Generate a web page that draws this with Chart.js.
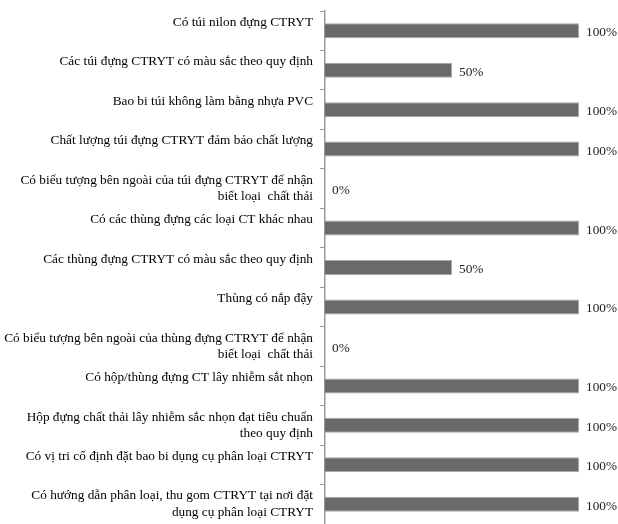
<!DOCTYPE html>
<html>
<head>
<meta charset="utf-8">
<script src="https://cdn.jsdelivr.net/npm/chart.js@4/dist/chart.umd.min.js"></script>
<style>
  html, body { margin: 0; padding: 0; background: #fff; }
  #wrap { width: 618px; height: 524px; }
</style>
</head>
<body>
<div id="wrap"><canvas id="chart" width="618" height="524"></canvas></div>
<script>
// category labels (single-line ones get an empty 2nd line, like the original)
const labels = [
  ["Có túi nilon đựng CTRYT", ""],
  ["Các túi đựng CTRYT có màu sắc theo quy định", ""],
  ["Bao bi túi không làm bằng nhựa PVC", ""],
  ["Chất lượng túi đựng CTRYT đảm bảo chất lượng", ""],
  ["Có biểu tượng bên ngoài của túi đựng CTRYT để nhận", "biết loại  chất thải"],
  ["Có các thùng đựng các loại CT khác nhau", ""],
  ["Các thùng đựng CTRYT có màu sắc theo quy định", ""],
  ["Thùng có nắp đậy", ""],
  ["Có biểu tượng bên ngoài của thùng đựng CTRYT để nhận", "biết loại  chất thải"],
  ["Có hộp/thùng đựng CT lây nhiễm sắt nhọn", ""],
  ["Hộp đựng chất thải lây nhiễm sắc nhọn đạt tiêu chuẩn", "theo quy định"],
  ["Có vị tri cố định đặt bao bi dụng cụ phân loại CTRYT", ""],
  ["Có hướng dẫn phân loại, thu gom CTRYT tại nơi đặt", "dụng cụ phân loại CTRYT"]
];
const values = [100, 50, 100, 100, 0, 100, 50, 100, 0, 100, 100, 100, 100];

const serif = "'Liberation Serif', 'Times New Roman', serif";

const valueLabels = {
  id: "valueLabels",
  afterDatasetsDraw(c) {
    const ctx = c.ctx;
    const meta = c.getDatasetMeta(0);
    ctx.save();
    ctx.font = "13.3px " + serif;
    ctx.fillStyle = "#222";
    ctx.textAlign = "left";
    ctx.textBaseline = "middle";
    meta.data.forEach((bar, i) => {
      ctx.fillText(values[i] + "%", bar.x + 7, bar.y + 2);
    });
    ctx.restore();
  }
};

chart = new Chart(document.getElementById("chart"), {
  type: "bar",
  data: {
    labels,
    datasets: [{
      data: values,
      backgroundColor: "#6a6a6a",
      borderColor: "#a8a8a8",
      borderWidth: 1,
      barPercentage: 0.38,
      categoryPercentage: 1
    }]
  },
  options: {
    indexAxis: "y",
    responsive: false,
    animation: false,
    layout: { padding: { top: 11, right: 39, bottom: 0, left: 0 } },
    plugins: { legend: { display: false }, tooltip: { enabled: false } },
    scales: {
      x: { display: false, min: 0, max: 100 },
      y: {
        afterFit(scale) {
          scale.width = 325;
          scale.paddingTop = 0;
          scale.paddingBottom = 0;
        },
        grid: { drawOnChartArea: false, drawTicks: true, tickLength: 5, color: "#999", offset: true },
        border: { color: "#999", width: 1.5 },
        ticks: {
          padding: 7,
          color: "#000",
          font: { family: serif, size: 13.3, lineHeight: 1.25 }
        }
      }
    }
  },
  plugins: [valueLabels]
});
</script>
</body>
</html>
